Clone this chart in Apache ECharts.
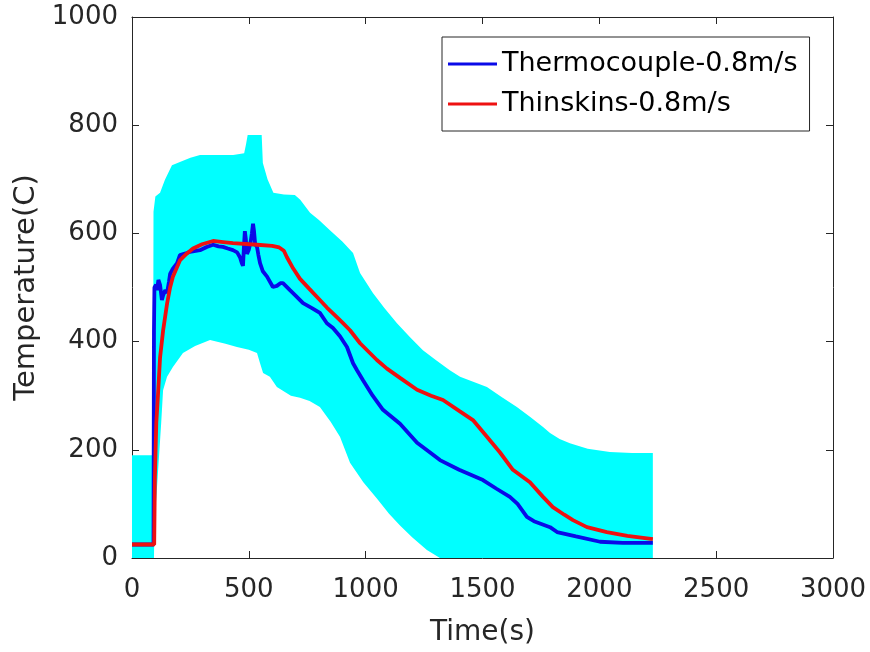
<!DOCTYPE html>
<html>
<head>
<meta charset="utf-8">
<script src="https://cdn.jsdelivr.net/npm/echarts@6/dist/echarts.min.js"></script>
<style>
html,body{margin:0;padding:0;background:#fff;}
#c{width:870px;height:652px;}
</style>
</head>
<body>
<div id="c"></div>
<script>
const xTicks = [0, 500, 1000, 1500, 2000, 2500, 3000];
const yTicks = [0, 200, 400, 600, 800, 1000];
const seriesNames = ['Thermocouple-0.8m/s', 'Thinskins-0.8m/s'];

const bandUpper = [[0,190],[90,190],[92,640],[100,668],[120,675],[141,699],[171,726],[205,732],[250,740],[291,745],[350,745],[433,745],[480,748],[488,765],[495,782],[555,782],[560,730],[580,700],[605,675],[650,672],[697,671],[720,662],[762,638],[800,625],[847,606],[900,585],[946,564],[976,527],[1031,490],[1080,462],[1134,434],[1190,408],[1245,384],[1300,366],[1360,347],[1404,335],[1460,326],[1519,316],[1580,298],[1647,279],[1703,261],[1759,242],[1789,231],[1830,220],[1874,212],[1950,202],[2045,196],[2140,194],[2229,194]];
const bandLower = [[0,0],[94,0],[96,60],[110,150],[125,250],[133,310],[150,335],[175,353],[218,379],[270,392],[334,403],[400,396],[449,390],[500,385],[535,379],[548,360],[561,342],[590,335],[620,316],[680,300],[719,296],[760,290],[804,279],[850,252],[890,224],[933,176],[990,140],[1048,110],[1100,82],[1147,60],[1200,38],[1262,15],[1318,0],[2229,0]];

const thermocouple = [[0,25],[92,25],[94,420],[96,500],[103,505],[107,495],[113,514],[120,505],[128,477],[133,485],[142,495],[150,490],[158,510],[163,525],[175,535],[193,545],[205,560],[230,563],[248,566],[291,569],[320,575],[347,579],[370,576],[389,575],[410,572],[432,569],[450,565],[462,556],[470,545],[475,540],[479,575],[483,604],[487,590],[492,562],[500,570],[508,585],[513,600],[518,618],[522,605],[527,580],[535,575],[541,560],[548,545],[560,530],[578,520],[603,501],[620,503],[635,508],[646,508],[660,502],[676,495],[700,485],[732,471],[770,462],[804,453],[834,434],[860,425],[890,410],[920,390],[946,360],[963,347],[988,329],[1030,300],[1074,274],[1147,248],[1220,213],[1270,197],[1318,181],[1400,163],[1502,144],[1560,128],[1617,113],[1650,100],[1690,76],[1720,68],[1789,57],[1819,48],[1900,40],[2003,30],[2100,28],[2229,28]];
const thinskins = [[0,25],[95,25],[98,150],[104,250],[111,300],[120,370],[133,420],[150,470],[163,500],[175,520],[205,550],[235,563],[261,572],[300,580],[347,586],[390,584],[432,582],[535,579],[600,577],[630,574],[650,568],[663,556],[690,535],[719,516],[760,497],[804,477],[834,463],[870,448],[903,434],[933,421],[976,397],[1048,366],[1091,350],[1147,333],[1220,311],[1280,300],[1331,292],[1400,272],[1459,255],[1519,224],[1575,195],[1630,163],[1703,140],[1759,113],[1801,94],[1850,80],[1887,70],[1947,57],[2032,48],[2120,41],[2229,35]];

const FONT = 'DejaVu Sans';
const AX = '#262626';
const chart = echarts.init(document.getElementById('c'), null, {renderer: 'canvas'});

const axisCommon = {
  axisLine: {show: true, onZero: false, lineStyle: {color: AX, width: 1}},
  axisTick: {show: true, inside: true, length: 7, lineStyle: {color: AX, width: 1}},
  splitLine: {show: false}
};
const plain = v => String(v);

chart.setOption({
  animation: false,
  backgroundColor: '#fff',
  grid: {left: 132, right: 37, top: 17, bottom: 94, containLabel: false},
  legend: {
    orient: 'vertical',
    left: 442, top: 37,
    padding: [12, 12, 12, 6],
    itemGap: 10,
    itemWidth: 49, itemHeight: 3,
    icon: 'rect',
    borderColor: '#262626', borderWidth: 1,
    backgroundColor: '#fff',
    textStyle: {fontFamily: FONT, fontSize: 27, color: '#000', lineHeight: 30},
    data: seriesNames
  },
  xAxis: [
    Object.assign({
      type: 'value', min: xTicks[0], max: xTicks[xTicks.length-1], interval: 500, position: 'bottom',
      name: 'Time(s)', nameLocation: 'middle', nameGap: 61,
      nameTextStyle: {fontFamily: FONT, fontSize: 28, color: AX},
      axisLabel: {fontFamily: FONT, fontSize: 26, color: AX, margin: 19, formatter: plain}
    }, axisCommon),
    Object.assign({
      type: 'value', min: xTicks[0], max: xTicks[xTicks.length-1], interval: 500, position: 'top',
      axisLabel: {show: false}
    }, axisCommon)
  ],
  yAxis: [
    Object.assign({
      type: 'value', min: yTicks[0], max: yTicks[yTicks.length-1], interval: 200, position: 'left',
      name: 'Temperature(C)', nameLocation: 'middle', nameGap: 80,
      nameTextStyle: {fontFamily: FONT, fontSize: 29, color: AX},
      axisLabel: {fontFamily: FONT, fontSize: 26, color: AX, margin: 14, formatter: plain}
    }, axisCommon),
    Object.assign({
      type: 'value', min: yTicks[0], max: yTicks[yTicks.length-1], interval: 200, position: 'right',
      axisLabel: {show: false}
    }, axisCommon)
  ],
  series: [
    {
      type: 'custom',
      name: 'band',
      silent: true,
      clip: true,
      z: 1,
      data: [[0, 0]],
      renderItem: function (params, api) {
        const pts = [];
        for (const p of bandUpper) pts.push(api.coord(p));
        for (let i = bandLower.length - 1; i >= 0; i--) pts.push(api.coord(bandLower[i]));
        return {type: 'polygon', shape: {points: pts}, style: {fill: '#00ffff', stroke: null}};
      }
    },
    {
      type: 'line', name: seriesNames[0], data: thermocouple, showSymbol: false, symbol: 'none',
      lineStyle: {color: '#0a0ae8', width: 3.8}, itemStyle: {color: '#0a0ae8'}, z: 3
    },
    {
      type: 'line', name: seriesNames[1], data: thinskins, showSymbol: false, symbol: 'none',
      lineStyle: {color: '#ee1111', width: 3.8}, itemStyle: {color: '#ee1111'}, z: 4
    }
  ]
});
</script>
</body>
</html>
